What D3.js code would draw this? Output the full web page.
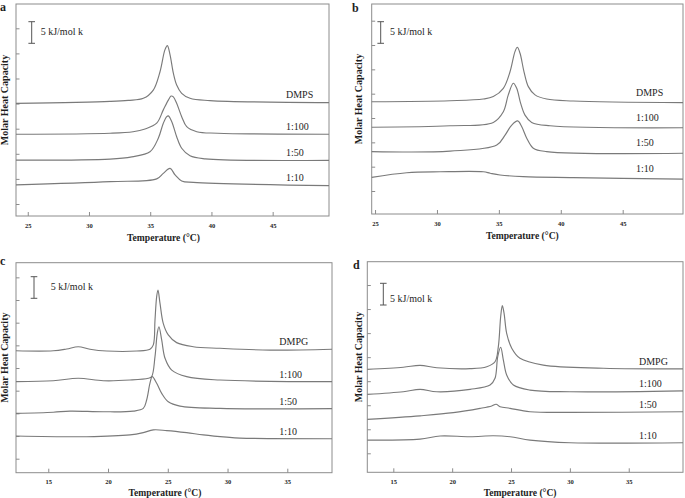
<!DOCTYPE html>
<html><head><meta charset="utf-8">
<script src="https://cdn.jsdelivr.net/npm/d3@7/dist/d3.min.js"></script>
<style>html,body{margin:0;padding:0;background:#fff}svg{display:block}</style>
</head><body><svg id="c" width="685" height="498"></svg>
<script>
// ---------- DATA ----------
const xTicksDMPS = [25, 30, 35, 40, 45];
const xTicksDMPG = [15, 20, 25, 30, 35];
const yTicks8 = [1, 2, 3, 4, 5, 6, 7, 8];
const yTicks9 = [1, 2, 3, 4, 5, 6, 7, 8, 9];
const namesDMPS = ["DMPS", "1:100", "1:50", "1:10"];
const namesDMPG = ["DMPG", "1:100", "1:50", "1:10"];
const scaleBarText = "5 kJ/mol k";
const xTitle = "Temperature (°C)";
const yTitle = "Molar Heat Capacity";

// panel a (temperature °C, molar heat capacity, offset units)
const aDMPS = [[24.04,5.01],[31.72,5.09],[33.2,5.13],[34.44,5.21],[35.25,5.54],[35.80,6.27],[36.20,7.14],[36.40,7.31],[36.62,6.94],[36.89,6.21],[37.16,5.74],[37.57,5.41],[38.25,5.21],[39.88,5.12],[49.6,5.04]];
const a100 = [[24.04,3.78],[31.72,3.82],[33.6,3.88],[34.58,3.99],[35.53,4.22],[36.07,4.75],[36.48,5.14],[36.70,5.30],[36.89,5.27],[37.16,5.01],[37.57,4.48],[37.98,4.08],[38.80,3.88],[40.5,3.82],[49.6,3.78]];
const a50 = [[24.04,2.75],[31.72,2.79],[33.5,2.88],[34.98,3.08],[35.66,3.62],[36.07,4.22],[36.35,4.48],[36.48,4.51],[36.76,4.28],[37.16,3.68],[37.57,3.22],[38.25,2.92],[39.5,2.80],[49.6,2.74]];
const a10 = [[24.04,1.76],[31.72,1.89],[35.53,2.0],[36.07,2.22],[36.62,2.42],[37.03,2.16],[37.57,1.92],[38.52,1.86],[49.6,1.73]];
// panel b
const bDMPS = [[24.73,4.67],[31.06,4.71],[33.74,4.78],[34.55,4.88],[35.36,5.22],[35.90,5.90],[36.30,6.73],[36.49,6.91],[36.71,6.66],[37.03,5.90],[37.38,5.29],[37.92,4.95],[38.86,4.78],[41.0,4.70],[49.87,4.63]];
const b100 = [[24.73,3.62],[31.06,3.68],[34.55,3.82],[35.36,4.26],[35.76,4.95],[36.17,5.43],[36.44,5.22],[36.76,4.60],[37.11,4.12],[37.65,3.82],[39.13,3.68],[49.87,3.60]];
const b50 = [[24.73,2.62],[31.06,2.64],[34.83,2.89],[35.50,3.30],[36.04,3.71],[36.52,3.88],[36.85,3.64],[37.25,3.17],[37.78,2.76],[38.86,2.62],[49.87,2.55]];
const b10 = [[24.73,1.56],[27.56,1.75],[30.25,1.79],[33.74,1.79],[34.3,1.73],[35.09,1.66],[36.97,1.59],[41.0,1.55],[49.87,1.49]];
// panel c
const cDMPG = [[12.30,5.76],[15.42,5.76],[16.54,5.84],[17.51,5.94],[18.49,5.83],[19.89,5.75],[22.40,5.75],[23.51,5.83],[23.79,6.02],[23.93,7.12],[24.07,8.15],[24.18,8.44],[24.35,7.85],[24.62,6.97],[25.04,6.46],[25.74,6.12],[27.13,5.94],[29.37,5.87],[33.55,5.79],[38.74,5.83]];
const c100 = [[12.30,4.40],[15.42,4.44],[17.51,4.55],[19.60,4.44],[21.84,4.47],[23.37,4.55],[23.65,4.62],[23.93,5.50],[24.12,6.53],[24.26,6.82],[24.49,6.24],[24.77,5.43],[25.33,4.91],[26.58,4.62],[29.37,4.47],[38.74,4.40]];
const c50 = [[12.30,3.00],[15.42,3.05],[16.82,3.10],[19.60,3.07],[22.11,3.10],[22.95,3.22],[23.23,3.59],[23.51,4.33],[23.70,4.62],[24.07,4.33],[24.49,3.88],[25.04,3.51],[26.02,3.32],[29.37,3.22],[38.74,3.21]];
const c10 = [[12.30,2.00],[18.21,1.97],[21.84,2.05],[22.95,2.15],[23.79,2.27],[24.91,2.24],[26.58,2.15],[27.97,2.05],[29.93,1.95],[31.04,1.91],[38.74,1.88]];
// panel d
const dDMPG = [[12.79,4.49],[15.85,4.58],[17.27,4.66],[18.69,4.56],[21.52,4.52],[22.94,4.60],[23.64,4.81],[23.92,5.43],[24.12,6.68],[24.26,7.14],[24.41,6.82],[24.63,5.99],[25.06,5.37],[25.76,4.95],[27.74,4.67],[32.84,4.54],[39.61,4.51]];
const d100 = [[12.79,3.45],[15.85,3.56],[17.27,3.66],[18.69,3.56],[21.52,3.66],[23.22,3.84],[23.64,4.12],[23.87,5.02],[24.12,5.41],[24.35,4.88],[24.63,4.26],[25.20,3.84],[26.61,3.63],[30.01,3.56],[39.61,3.60]];
const d50 = [[12.79,2.41],[17.27,2.56],[20.10,2.69],[22.37,2.87],[23.36,2.97],[23.73,3.04],[24.07,2.94],[24.92,2.87],[26.61,2.73],[30.01,2.70],[39.61,2.73]];
const d10 = [[12.79,1.55],[17.27,1.59],[18.98,1.72],[21.52,1.69],[23.5,1.73],[24.92,1.69],[26.61,1.55],[30.01,1.44],[39.61,1.44]];

// ---------- LAYOUT ----------
const panels = [
  {letter:"a", lx:0, ly:11, box:[16,329,4,216], xd:[24.04,49.6], yd:[0.522,8.968], xt:xTicksDMPS, yt:yTicks8,
   names:namesDMPS, data:[aDMPS,a100,a50,a10], labX:286, labDy:-4.5, bar:[31.7,21.7,43.3], barTx:[40.7,35], yLabX:4},
  {letter:"b", lx:352, ly:12, box:[371.7,683,4,214], xd:[24.73,49.87], yd:[0.055,8.686], xt:xTicksDMPS, yt:yTicks8,
   names:namesDMPS, data:[bDMPS,b100,b50,b10], labX:636, labDy:-7, bar:[380.7,21.7,43.3], barTx:[390,35], yLabX:358},
  {letter:"c", lx:0, ly:265, box:[16,332,262.7,472.7], xd:[12.30,38.74], yd:[0.382,9.646], xt:xTicksDMPG, yt:yTicks9,
   names:namesDMPG, data:[cDMPG,c100,c50,c10], labX:279.3, labDy:-4, bar:[34,276.7,298.3], barTx:[50.7,290], yLabX:4},
  {letter:"d", lx:353, ly:269, box:[367.3,683,261.7,472.3], xd:[12.79,39.61], yd:[0.210,8.970], xt:xTicksDMPG, yt:yTicks8,
   names:namesDMPG, data:[dDMPG,d100,d50,d10], labX:639, labDy:-4, bar:[383.3,283.3,305], barTx:[390,301.7], yLabX:358}
];

const svg = d3.select("#c");
const FONT = "'Liberation Serif','Times New Roman',serif";
const lineCol = "#7a7a7a", boxCol = "#8c8c8c", txtCol = "#1e1e1e";

panels.forEach(p => {
  const [x0,x1,y0,y1] = p.box;
  const x = d3.scaleLinear().domain(p.xd).range([x0,x1]);
  const y = d3.scaleLinear().domain(p.yd).range([y1,y0]);
  const g = svg.append("g");

  // frame
  g.append("rect").attr("x",x0).attr("y",y0).attr("width",x1-x0).attr("height",y1-y0)
    .attr("fill","none").attr("stroke",boxCol).attr("stroke-width",1);

  // x axis (inward ticks)
  const xa = g.append("g").attr("transform",`translate(0,${y1})`)
    .call(d3.axisBottom(x).tickValues(p.xt).tickSizeInner(-4).tickSizeOuter(0).tickPadding(7));
  xa.select(".domain").remove();
  xa.selectAll("line").attr("stroke",boxCol);
  xa.selectAll("text").attr("font-family",FONT).attr("font-size","6.5px").attr("font-weight","bold").attr("fill",txtCol);

  // y axis (inward ticks, no labels)
  const ya = g.append("g").attr("transform",`translate(${x0},0)`)
    .call(d3.axisLeft(y).tickValues(p.yt).tickSizeInner(-3.5).tickSizeOuter(0).tickFormat(""));
  ya.select(".domain").remove();
  ya.selectAll("line").attr("stroke",boxCol);

  // curves
  const line = d3.line().x(d=>x(d[0])).y(d=>y(d[1])).curve(d3.curveCatmullRom.alpha(0.5));
  p.data.forEach((s,i) => {
    g.append("path").attr("d",line(s)).attr("fill","none").attr("stroke",lineCol).attr("stroke-width",1.15);
    const last = s[s.length-1];
    g.append("text").attr("x",p.labX).attr("y",y(last[1])+p.labDy)
      .attr("font-family",FONT).attr("font-size","10px").attr("fill",txtCol).text(p.names[i]);
  });

  // scale bar
  const [bx,by0,by1] = p.bar;
  g.append("path").attr("d",`M${bx},${by0}V${by1}M${bx-3.3},${by0}H${bx+3.3}M${bx-3.3},${by1}H${bx+3.3}`)
    .attr("stroke","#555").attr("stroke-width",1).attr("fill","none");
  g.append("text").attr("x",p.barTx[0]).attr("y",p.barTx[1]).attr("font-family",FONT)
    .attr("font-size","10px").attr("fill",txtCol).text(scaleBarText);

  // titles
  g.append("text").attr("x",(x0+x1)/2 + ( p.letter==="a"||p.letter==="c" ? -9 : -5)).attr("y",y1+(y0<100?25:23.5))
    .attr("text-anchor","middle").attr("font-family",FONT).attr("font-size","9.6px").attr("font-weight","bold")
    .attr("fill",txtCol).text(xTitle);
  g.append("text").attr("transform",`translate(${p.yLabX},${(y0+y1)/2 - 10}) rotate(-90)`)
    .attr("text-anchor","middle").attr("dy","0.35em").attr("font-family",FONT).attr("font-size","10px")
    .attr("font-weight","bold").attr("fill",txtCol).text(yTitle);

  // panel letter
  g.append("text").attr("x",p.lx).attr("y",p.ly).attr("font-family",FONT).attr("font-size","12px")
    .attr("font-weight","bold").attr("fill",txtCol).text(p.letter);
});
</script></body></html>
